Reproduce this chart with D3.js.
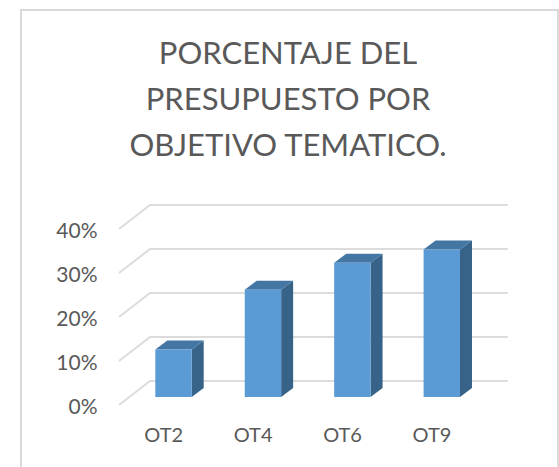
<!DOCTYPE html>
<html>
<head>
<meta charset="utf-8">
<script src="https://cdn.jsdelivr.net/npm/d3@7"></script>
<style>
html, body { margin: 0; padding: 0; background: #fff; }
svg { display: block; }
text { font-family: Lato, sans-serif; fill: #595959; }
</style>
</head>
<body>
<div id="chart"></div>
<script>
var titleLines = ["PORCENTAJE DEL", "PRESUPUESTO POR", "OBJETIVO TEMATICO."];
var categories = ["OT2", "OT4", "OT6", "OT9"];
var values = [0.108, 0.244, 0.305, 0.335];
var ticks = [0, 0.1, 0.2, 0.3, 0.4];

var width = 559, height = 467;
var depth = { x: 31, y: -24 };
var barDepth = { x: 12, y: -9 };
var barOffset = { x: 9.8, y: -8 };

var svg = d3.select("#chart").append("svg")
    .attr("width", width)
    .attr("height", height);

// chart frame
svg.append("path")
    .attr("d", "M21,467V10H558V467")
    .attr("fill", "none")
    .attr("stroke", "#d9d9d9")
    .attr("stroke-width", 2);

svg.append("g").selectAll("text")
    .data(titleLines)
    .enter()
    .append("text")
    .attr("x", 288)
    .attr("y", function (d, i) { return 64 + i * 46; })
    .attr("text-anchor", "middle")
    .style("font-size", "31px")
    .text(function (d) { return d; });

var x = d3.scaleBand().domain(categories).range([119, 476.7]);
var y = d3.scaleLinear().domain([0, 0.4]).range([405, 229]);

// gridlines go along the side wall then across the back wall
svg.append("g").selectAll("path")
    .data(ticks)
    .enter()
    .append("path")
    .attr("d", function (d) {
        return "M" + x.range()[0] + "," + y(d) +
            "l" + depth.x + "," + depth.y +
            "H" + (x.range()[1] + depth.x);
    })
    .attr("fill", "none")
    .attr("stroke", "#dcdcdc")
    .attr("stroke-width", 2);

var yLabels = d3.axisLeft(y).tickValues(ticks).tickFormat(d3.format(".0%")).tickSize(0).tickPadding(0);
var yAxis = svg.append("g").attr("transform", "translate(97.5,0)").call(yLabels);
yAxis.select(".domain").remove();
yAxis.selectAll("text").attr("dy", "8.5px").style("font-size", "21px").style("font-family", null);

var xLabels = d3.axisBottom(x).tickSize(0).tickPadding(0);
var xAxis = svg.append("g").attr("transform", "translate(0,442)").call(xLabels);
xAxis.select(".domain").remove();
xAxis.selectAll("text").attr("y", 0).attr("dy", 0).style("font-size", "20px").style("font-family", null);

var barW = 36.4;
var bar = svg.append("g").selectAll("g")
    .data(categories)
    .enter()
    .append("g")
    .attr("transform", function (d) {
        return "translate(" + (x(d) + x.bandwidth() / 2 - barW / 2 + barOffset.x) + "," + barOffset.y + ")";
    });

var valueOf = function (i) { return values[i]; };

// side
bar.append("path")
    .attr("fill", "#376389")
    .attr("d", function (d, i) {
        return "M" + barW + "," + y(0) +
            "V" + y(valueOf(i)) +
            "l" + barDepth.x + "," + barDepth.y +
            "V" + (y(0) + barDepth.y) + "Z";
    });

// top
bar.append("path")
    .attr("fill", "#4476a3")
    .attr("d", function (d, i) {
        return "M0," + y(valueOf(i)) +
            "l" + barDepth.x + "," + barDepth.y +
            "h" + barW +
            "l" + (-barDepth.x) + "," + (-barDepth.y) + "Z";
    });

// front
bar.append("rect")
    .attr("x", 0)
    .attr("y", function (d, i) { return y(valueOf(i)); })
    .attr("width", barW)
    .attr("height", function (d, i) { return y(0) - y(valueOf(i)); })
    .attr("fill", "#5b9bd5");
</script>
</body>
</html>
